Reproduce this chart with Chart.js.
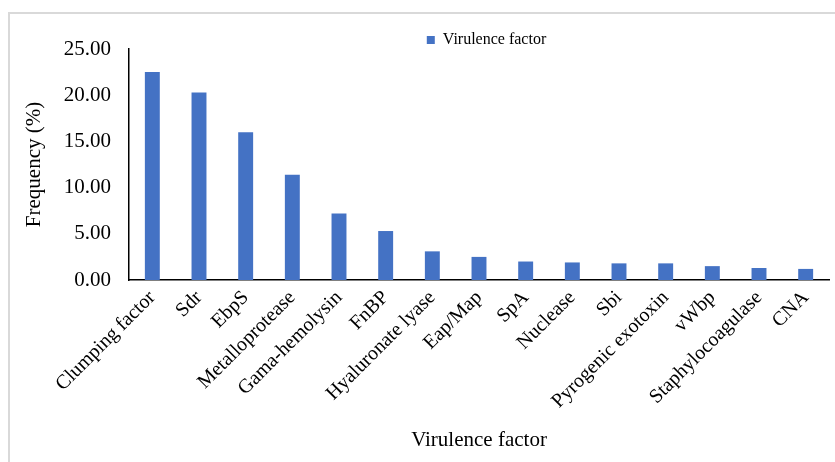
<!DOCTYPE html>
<html>
<head>
<meta charset="utf-8">
<script src="https://cdn.jsdelivr.net/npm/chart.js@4/dist/chart.umd.min.js"></script>
<style>
  html, body { margin: 0; padding: 0; background: #fff; }
  #wrap { position: relative; width: 835px; height: 462px; }
</style>
</head>
<body>
<div id="wrap"><canvas id="c" width="835" height="462"></canvas></div>
<script>
// Virulence factor frequencies (%)
const categories = [
  'Clumping factor', 'Sdr', 'EbpS', 'Metalloprotease', 'Gama-hemolysin',
  'FnBP', 'Hyaluronate lyase', 'Eap/Map', 'SpA', 'Nuclease', 'Sbi',
  'Pyrogenic exotoxin', 'vWbp', 'Staphylocoagulase', 'CNA'
];
const frequency = [22.5, 20.3, 16.0, 11.4, 7.2, 5.3, 3.1, 2.5, 2.0, 1.9, 1.8, 1.8, 1.5, 1.3, 1.2];
const yTicks = [0, 5, 10, 15, 20, 25];

const serif = "'Liberation Serif', 'Times New Roman', serif";

// light frame along the top and left edges of the figure
const framePlugin = {
  id: 'frame',
  beforeDraw(chart) {
    const ctx = chart.ctx;
    ctx.save();
    ctx.fillStyle = '#ffffff';
    ctx.fillRect(0, 0, chart.width, chart.height);
    ctx.strokeStyle = '#d9d9d9';
    ctx.lineWidth = 2;
    ctx.beginPath();
    ctx.moveTo(9, chart.height);
    ctx.lineTo(9, 13);
    ctx.lineTo(chart.width, 13);
    ctx.stroke();
    ctx.restore();
  }
};

// nudge the legend box to sit right-of-centre, a little lower over the plot
const legendOffset = { dx: 72, dy: 9 };
const legendShiftPlugin = {
  id: 'legendShift',
  afterLayout(chart) {
    const lg = chart.legend;
    if (!lg) return;
    lg.left += legendOffset.dx; lg.right += legendOffset.dx;
    lg.top += legendOffset.dy; lg.bottom += legendOffset.dy;
  }
};

new Chart(document.getElementById('c'), {
  type: 'bar',
  data: {
    labels: categories,
    datasets: [{
      label: 'Virulence factor',
      data: frequency,
      backgroundColor: '#4472c4',
      borderWidth: 0,
      barPercentage: 0.64,
      categoryPercentage: 0.5
    }]
  },
  options: {
    responsive: false,
    animation: false,
    devicePixelRatio: 1,
    layout: { padding: { left: 0, right: 6, top: 11, bottom: 0 } },
    plugins: {
      legend: {
        position: 'top',
        labels: {
          boxWidth: 8,
          boxHeight: 8,
          padding: 12,
          color: '#000',
          font: { family: serif, size: 16 }
        }
      },
      tooltip: { enabled: false }
    },
    scales: {
      x: {
        grid: { display: false, drawTicks: false },
        border: { display: true, color: '#000', width: 1.5 },
        ticks: {
          color: '#000',
          font: { family: serif, size: 20 },
          minRotation: 45,
          maxRotation: 45,
          padding: 6,
          autoSkip: false
        },
        title: {
          display: true,
          text: 'Virulence factor',
          color: '#000',
          font: { family: serif, size: 21 },
          padding: { top: 0, bottom: 9 }
        },
        afterFit(scale) { scale.height = 182; }
      },
      y: {
        min: 0,
        max: 25,
        grid: { display: false, drawTicks: false },
        border: { display: true, color: '#000', width: 1.5 },
        afterBuildTicks(scale) { scale.ticks = yTicks.map(v => ({ value: v })); },
        ticks: {
          color: '#000',
          font: { family: serif, size: 21 },
          padding: 18,
          callback: v => Number(v).toFixed(2)
        },
        title: {
          display: true,
          text: 'Frequency (%)',
          color: '#000',
          font: { family: serif, size: 21 },
          padding: { top: 22, bottom: 0 }
        },
        afterFit(scale) { scale.width = 129; }
      }
    }
  },
  plugins: [framePlugin, legendShiftPlugin]
});
</script>
</body>
</html>
